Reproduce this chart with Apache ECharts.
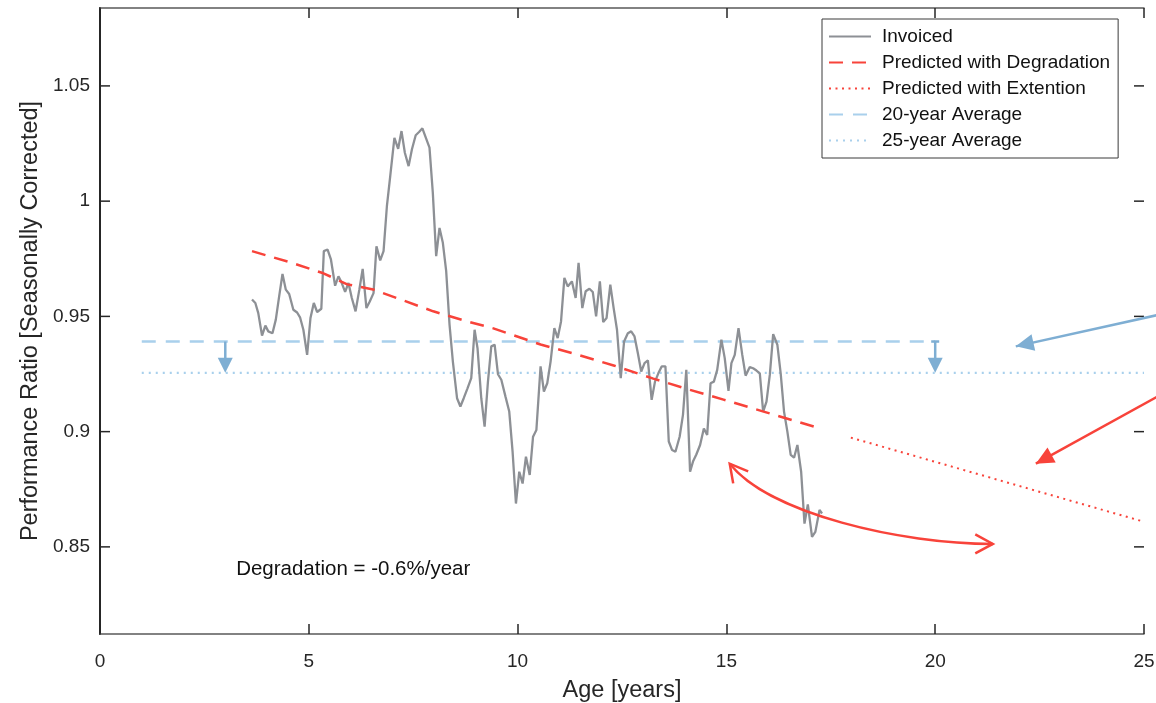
<!DOCTYPE html>
<html>
<head>
<meta charset="utf-8">
<script src="https://cdn.jsdelivr.net/npm/echarts@6/dist/echarts.min.js"></script>
<style>
  html, body { margin: 0; background: #fff; }
  #chart { width: 1156px; height: 703px; }
</style>
</head>
<body>
<div id="chart"></div>
<script>
// monthly invoiced performance ratio (age in years)
const ages = [
  3.64, 3.72, 3.79, 3.88, 3.96, 4.03, 4.13, 4.21, 4.29, 4.37,
  4.45, 4.53, 4.63, 4.72, 4.79, 4.87, 4.96, 5.04, 5.12, 5.20,
  5.30, 5.36, 5.45, 5.53, 5.63, 5.71, 5.78, 5.87, 5.95, 6.03,
  6.12, 6.21, 6.29, 6.38, 6.46, 6.55, 6.62, 6.71, 6.79, 6.87,
  6.95, 7.05, 7.14, 7.22, 7.30, 7.39, 7.47, 7.56, 7.64, 7.72,
  7.89, 7.97, 8.05, 8.13, 8.21, 8.29, 8.37, 8.45, 8.55, 8.63,
  8.71, 8.80, 8.89, 8.97, 9.04, 9.13, 9.21, 9.29, 9.37, 9.45,
  9.53, 9.61, 9.71, 9.80, 9.88, 9.96, 10.04, 10.12, 10.20, 10.29,
  10.37, 10.45, 10.55, 10.63, 10.71, 10.79, 10.88, 10.96, 11.04, 11.12,
  11.20, 11.30, 11.39, 11.46, 11.55, 11.63, 11.72, 11.80, 11.88, 11.97,
  12.05, 12.13, 12.22, 12.30, 12.38, 12.47, 12.55, 12.64, 12.72, 12.80,
  12.88, 12.96, 13.04, 13.12, 13.21, 13.29, 13.37, 13.45, 13.54, 13.62,
  13.70, 13.78, 13.88, 13.96, 14.04, 14.13, 14.20, 14.28, 14.37, 14.46,
  14.54, 14.62, 14.70, 14.78, 14.88, 14.96, 15.05, 15.12, 15.20, 15.29,
  15.38, 15.46, 15.56, 15.64, 15.72, 15.80, 15.88, 15.96, 16.04, 16.12,
  16.22, 16.30, 16.38, 16.46, 16.54, 16.62, 16.70, 16.79, 16.87, 16.95,
  17.05, 17.13, 17.23, 17.29
];
const invoiced = [
  0.9573, 0.9558, 0.9514, 0.9417, 0.9460, 0.9435, 0.9427, 0.9486, 0.9587, 0.9684,
  0.9616, 0.9597, 0.9529, 0.9517, 0.9496, 0.9442, 0.9333, 0.9493, 0.9558, 0.9519,
  0.9533, 0.9783, 0.9790, 0.9747, 0.9633, 0.9674, 0.9649, 0.9606, 0.9645, 0.9580,
  0.9522, 0.9616, 0.9706, 0.9536, 0.9565, 0.9601, 0.9804, 0.9743, 0.9783, 0.9978,
  1.0109, 1.0275, 1.0227, 1.0304, 1.0210, 1.0152, 1.0225, 1.0286, 1.0300, 1.0316,
  1.0232, 1.0036, 0.9761, 0.9884, 0.9819, 0.9696, 0.9464, 0.9304, 0.9145, 0.9109,
  0.9145, 0.9188, 0.9232, 0.9442, 0.9362, 0.9145, 0.9022, 0.9217, 0.9370, 0.9377,
  0.9249, 0.9225, 0.9152, 0.9087, 0.8913, 0.8688, 0.8826, 0.8775, 0.8891, 0.8812,
  0.8978, 0.9007, 0.9283, 0.9174, 0.9210, 0.9304, 0.9449, 0.9406, 0.9478, 0.9667,
  0.9630, 0.9652, 0.9580, 0.9732, 0.9536, 0.9609, 0.9620, 0.9606, 0.9500, 0.9652,
  0.9475, 0.9493, 0.9638, 0.9536, 0.9442, 0.9232, 0.9391, 0.9427, 0.9435, 0.9413,
  0.9340, 0.9261, 0.9297, 0.9309, 0.9138, 0.9217, 0.9253, 0.9283, 0.9283, 0.8957,
  0.8920, 0.8913, 0.8978, 0.9073, 0.9268, 0.8826, 0.8870, 0.8901, 0.8942, 0.9014,
  0.8986, 0.9210, 0.9217, 0.9268, 0.9399, 0.9319, 0.9177, 0.9297, 0.9333, 0.9449,
  0.9333, 0.9243, 0.9280, 0.9275, 0.9265, 0.9253, 0.9087, 0.9130, 0.9247, 0.9423,
  0.9377, 0.9253, 0.9087, 0.9000, 0.8899, 0.8887, 0.8942, 0.8826, 0.8601, 0.8684,
  0.8543, 0.8565, 0.8660, 0.8645
];

const degradationAges = [3.64, 4.55, 5.35, 5.92, 6.54, 7.19, 7.98, 8.80, 9.42, 10.55, 11.34, 12.30, 13.25, 14.02, 14.93, 15.89, 17.26];
const degradationValues = [0.9783, 0.9735, 0.9687, 0.9639, 0.9617, 0.9574, 0.9522, 0.9478, 0.9448, 0.9378, 0.9339, 0.9287, 0.9230, 0.9187, 0.9139, 0.9087, 0.9013];
const extensionAges = [17.98, 25];
const extensionValues = [0.8974, 0.8609];
const avg20Ages = [1, 20];
const avg20Values = [0.9391, 0.9391];
const avg25Ages = [1, 25];
const avg25Values = [0.9255, 0.9255];

const yTicks = [0.85, 0.9, 0.95, 1, 1.05];
const yRange = [0.8122, 1.0838];
const xRange = [0, 25];

// annotation anchors, in data units
const stepArrowAges = [3, 20];
const blueArrow = [[25.6, 0.9517], [21.93, 0.937]];
const redArrow = [[25.6, 0.918], [22.41, 0.8861]];
const spanArrow = [[15.08, 0.8861], [16.04, 0.8643], [19.18, 0.8513], [21.38, 0.8513]];
const noteText = 'Degradation = -0.6%/year';
const notePos = [3.26, 0.8404];

const font = 'Liberation Sans, Arial, sans-serif';
const red = '#f8433a';
const gray = '#8d9095';
const lightBlue = '#a9d0ec';
const arrowBlue = '#7eaed3';
const zip = (xs, ys) => xs.map((x, i) => [x, ys[i]]);

const chart = echarts.init(document.getElementById('chart'), null, { renderer: 'canvas' });

const tickStyle = { inside: true, length: 10, lineStyle: { color: '#262626', width: 1.5 } };

const option = {
  animation: false,
  grid: { left: 100, right: 12, top: 8, bottom: 69, containLabel: false, outerBoundsMode: 'none' },
  legend: {
    orient: 'vertical',
    left: 822,
    top: 19,
    padding: [8, 8, 8, 6],
    itemWidth: 42,
    itemHeight: 14,
    itemGap: 7,
    backgroundColor: '#fff',
    borderColor: '#3a3a3a',
    borderWidth: 1,
    itemStyle: { color: 'transparent', borderColor: 'transparent', borderWidth: 0 },
    textStyle: { fontFamily: font, fontSize: 19, color: '#111', padding: [0, 0, 0, 6] },
    data: ['Invoiced', 'Predicted with Degradation', 'Predicted with Extention', '20-year Average', '25-year Average']
  },
  xAxis: [
    {
      type: 'value', min: xRange[0], max: xRange[1], interval: 5,
      name: 'Age [years]', nameLocation: 'middle', nameGap: 45,
      nameTextStyle: { fontFamily: font, fontSize: 23.5, color: '#262626' },
      axisLine: { lineStyle: { color: '#5a5a5a', width: 1.5 } },
      axisTick: tickStyle,
      axisLabel: { fontFamily: font, fontSize: 19, color: '#262626', margin: 18 },
      splitLine: { show: false }
    },
    {
      type: 'value', min: xRange[0], max: xRange[1], interval: 5, position: 'top',
      axisLine: { lineStyle: { color: '#5a5a5a', width: 1.5 } },
      axisTick: tickStyle,
      axisLabel: { show: false },
      splitLine: { show: false }
    }
  ],
  yAxis: [
    {
      type: 'value', min: yRange[0], max: yRange[1],
      name: 'Performance Ratio [Seasonally Corrected]', nameLocation: 'middle', nameGap: 57,
      nameTextStyle: { fontFamily: font, fontSize: 23.5, color: '#262626' },
      axisLine: { lineStyle: { color: '#262626', width: 2 } },
      axisTick: { show: false },
      axisLabel: {
        customValues: yTicks, fontFamily: font, fontSize: 19, color: '#262626', margin: 10,
        formatter: v => String(+v.toFixed(2))
      },
      splitLine: { show: false }
    },
    {
      type: 'value', min: yRange[0], max: yRange[1], position: 'right',
      axisLine: { lineStyle: { color: '#262626', width: 2 } },
      axisTick: { show: false },
      axisLabel: { show: false },
      splitLine: { show: false }
    }
  ],
  series: [
    {
      name: '20-year Average', type: 'line', data: zip(avg20Ages, avg20Values),
      symbol: 'none', z: 1,
      lineStyle: { color: lightBlue, width: 2.5, type: [14, 10] }, itemStyle: { color: lightBlue }
    },
    {
      name: '25-year Average', type: 'line', data: zip(avg25Ages, avg25Values),
      symbol: 'none', z: 1,
      lineStyle: { color: lightBlue, width: 2.2, type: [2, 5] }, itemStyle: { color: lightBlue }
    },
    {
      name: 'Invoiced', type: 'line', data: zip(ages, invoiced),
      symbol: 'none', z: 2,
      lineStyle: { color: gray, width: 2.3 }, itemStyle: { color: gray }
    },
    {
      name: 'Predicted with Degradation', type: 'line', data: zip(degradationAges, degradationValues),
      symbol: 'none', z: 3,
      lineStyle: { color: red, width: 2.5, type: [14, 9] }, itemStyle: { color: red }
    },
    {
      name: 'Predicted with Extention', type: 'line', data: zip(extensionAges, extensionValues),
      symbol: 'none', z: 3,
      lineStyle: { color: red, width: 2, type: [2, 4.5] }, itemStyle: { color: red }
    }
  ]
};

chart.setOption(option);

// y ticks on both sides and annotations, placed from data units
function drawNotes() {
  const px = p => chart.convertToPixel({ gridIndex: 0 }, p);
  const seg = (a, b, color, w) => ({
    type: 'line', shape: { x1: a[0], y1: a[1], x2: b[0], y2: b[1] },
    style: { stroke: color, lineWidth: w || 2.5 }, z: 10
  });
  const head = (tip, from, len, hw, color) => {
    const dx = tip[0] - from[0], dy = tip[1] - from[1];
    const d = Math.hypot(dx, dy), ux = dx / d, uy = dy / d;
    const bx = tip[0] - ux * len, by = tip[1] - uy * len;
    return {
      type: 'polygon', z: 10,
      shape: { points: [tip, [bx - uy * hw, by + ux * hw], [bx + uy * hw, by - ux * hw]] },
      style: { fill: color }
    };
  };
  const chevron = (tip, from, len, ang, color) => {
    const dx = from[0] - tip[0], dy = from[1] - tip[1];
    const base = Math.atan2(dy, dx);
    const arm = a => [tip[0] + len * Math.cos(base + a), tip[1] + len * Math.sin(base + a)];
    return {
      type: 'polyline', z: 10,
      shape: { points: [arm(ang), tip, arm(-ang)] },
      style: { stroke: color, lineWidth: 2.5, fill: null }
    };
  };

  const els = [];
  yTicks.forEach(v => {
    const l = px([xRange[0], v]), r = px([xRange[1], v]);
    els.push(seg(l, [l[0] + 10, l[1]], '#262626', 1.5));
    els.push(seg([r[0] - 10, r[1]], r, '#262626', 1.5));
  });

  stepArrowAges.forEach((a, i) => {
    const top = px([a, avg20Values[0]]);
    const tip = px([a, avg25Values[0]]);
    els.push(seg(top, [tip[0], tip[1] - 12], arrowBlue));
    els.push(head(tip, top, 15, 7.5, arrowBlue));
    if (i === 1) els.push(seg([top[0] - 4, top[1]], [top[0] + 4, top[1]], arrowBlue));
  });

  const b0 = px(blueArrow[0]), b1 = px(blueArrow[1]);
  els.push(seg(b0, b1, arrowBlue));
  els.push(head(b1, b0, 18, 8.5, arrowBlue));

  const r0 = px(redArrow[0]), r1 = px(redArrow[1]);
  els.push(seg(r0, r1, red));
  els.push(head(r1, r0, 18, 8.5, red));

  const s = spanArrow.map(px);
  els.push({
    type: 'bezierCurve', z: 10,
    shape: { x1: s[0][0], y1: s[0][1], cpx1: s[1][0], cpy1: s[1][1], cpx2: s[2][0], cpy2: s[2][1], x2: s[3][0], y2: s[3][1] },
    style: { stroke: red, lineWidth: 2.5, fill: null }
  });
  els.push(chevron(s[0], s[1], 20, 0.5, red));
  els.push(chevron(s[3], s[2], 20, 0.5, red));

  const n = px(notePos);
  els.push({
    type: 'text', x: n[0], y: n[1], z: 10,
    style: { text: noteText, fill: '#111', font: '20.5px ' + font, textAlign: 'left', textVerticalAlign: 'middle', verticalAlign: 'middle' }
  });

  chart.setOption({ graphic: els });
}

drawNotes();
</script>
</body>
</html>
